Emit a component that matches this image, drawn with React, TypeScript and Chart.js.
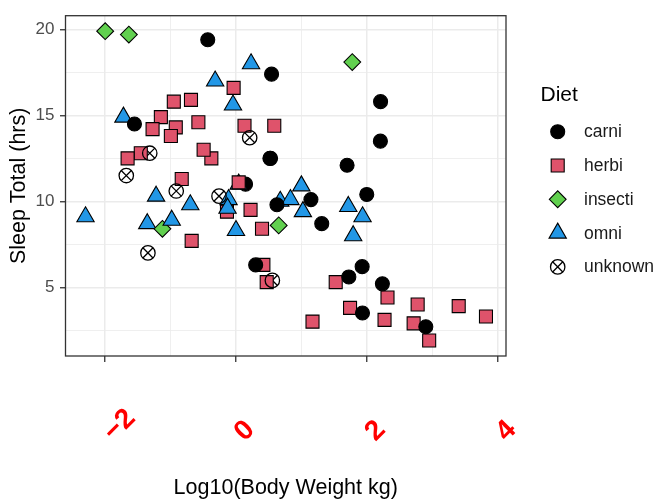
import React, { useEffect, useRef } from 'react';
import { Chart, registerables } from 'chart.js';

Chart.register(...registerables);

// Mammal sleep data: body weight (kg), total sleep (hrs) and diet, one entry per animal.
const bodyWeightKg = [
  50.0, 0.48, 1.35, 0.019, 600.0, 3.85, 20.49, 0.045, 14.0, 14.8,
  33.5, 0.728, 4.75, 0.42, 0.06, 1.0, 0.005, 3.5, 2.95, 1.7,
  2547.0, 0.023, 521.0, 187.0, 0.77, 10.0, 0.071, 3.3, 0.2, 899.995,
  800.0, 85.0, 2.625, 62.0, 1.67, 6654.0, 0.37, 6.8, 0.053, 0.12,
  0.035, 0.022, 0.01, 0.266, 1.4, 0.21, 0.028, 2.5, 55.5, 52.2,
  162.564, 100.0, 161.499, 10.55, 0.55, 1.1, 0.021, 1.62, 86.0, 53.18,
  1.1, 60.0, 3.6, 0.32, 0.044, 0.743, 0.075, 0.148, 0.122, 0.92,
  0.101, 0.205, 0.048, 86.25, 4.5, 0.112, 207.501, 0.9, 0.104, 173.33,
  2.0, 3.38, 4.23,
];

const sleepTotalHrs = [
  12.1, 17.0, 14.4, 14.9, 4.0, 14.4, 8.7, 7.0, 10.1, 3.0,
  5.3, 9.4, 10.0, 12.5, 10.3, 8.3, 9.1, 17.4, 5.3, 18.0,
  3.9, 19.7, 2.9, 3.1, 10.1, 10.9, 14.9, 12.5, 9.8, 1.9,
  2.7, 6.2, 6.3, 8.0, 9.5, 3.3, 19.4, 10.1, 14.2, 14.3,
  12.8, 12.5, 19.9, 14.6, 11.0, 7.7, 14.5, 8.4, 3.8, 9.7,
  15.8, 10.4, 13.5, 9.4, 10.3, 11.0, 11.5, 13.7, 3.5, 5.6,
  11.1, 18.1, 5.4, 13.0, 8.7, 9.6, 8.4, 11.3, 10.6, 16.6,
  13.8, 15.9, 12.8, 9.1, 8.6, 15.8, 4.4, 15.6, 8.9, 5.2,
  6.3, 12.5, 9.8,
];

const diet = [
  'carni', 'omni', 'herbi', 'omni', 'herbi', 'herbi', 'carni', 'unknown', 'carni', 'herbi',
  'herbi', 'herbi', 'omni', 'herbi', 'omni', 'omni', 'omni', 'carni', 'herbi', 'omni',
  'herbi', 'insecti', 'herbi', 'herbi', 'omni', 'omni', 'herbi', 'carni', 'omni', 'herbi',
  'carni', 'carni', 'herbi', 'omni', 'herbi', 'herbi', 'carni', 'omni', 'herbi', 'herbi',
  'herbi', 'herbi', 'insecti', 'herbi', 'carni', 'herbi', 'carni', 'herbi', 'herbi', 'omni',
  'carni', 'carni', 'carni', 'omni', 'unknown', 'omni', 'unknown', 'unknown', 'carni', 'carni',
  'herbi', 'insecti', 'unknown', 'herbi', 'omni', 'omni', 'insecti', 'herbi', 'unknown', 'herbi',
  'herbi', 'herbi', 'unknown', 'omni', 'insecti', 'herbi', 'herbi', 'omni', 'omni', 'carni',
  'carni', 'carni', 'carni',
];

const dietLevels = ['carni', 'herbi', 'insecti', 'omni', 'unknown'];

const xMajorTicks = [-2, 0, 2, 4];
const xTickLabels = ['\u22122', '0', '2', '4'];
const xMinorTicks = [-1, 1, 3];
const yMajorTicks = [5, 10, 15, 20];
const yMinorTicks = [2.5, 7.5, 12.5, 17.5];

const FONT = "'Liberation Sans', Arial, Helvetica, sans-serif";

const dietFill: Record<string, string> = {
  carni: '#000000',
  herbi: '#DF536B',
  insecti: '#61D04F',
  omni: '#2297E6',
  unknown: 'rgba(0,0,0,0)',
};

const dietStyle: Record<string, string> = {
  carni: 'circle',
  herbi: 'rect',
  insecti: 'rectRot',
  omni: 'triangle',
  unknown: 'circle',
};

const dietRadius: Record<string, number> = {
  carni: 7,
  herbi: 9.2,
  insecti: 8.4,
  omni: 10,
  unknown: 7.2,
};

// Marker for the legend keys, same geometry as the point styles.
function drawKey(ctx: CanvasRenderingContext2D, d: string, x: number, y: number) {
  const r = dietRadius[d];
  ctx.save();
  ctx.fillStyle = dietFill[d];
  ctx.strokeStyle = '#000';
  ctx.lineWidth = d === 'unknown' ? 1.3 : 1.1;
  ctx.beginPath();
  if (d === 'carni' || d === 'unknown') {
    ctx.arc(x, y, r, 0, Math.PI * 2);
  } else if (d === 'herbi') {
    const s = r * Math.SQRT1_2;
    ctx.rect(x - s, y - s, 2 * s, 2 * s);
  } else if (d === 'insecti') {
    ctx.moveTo(x - r, y);
    ctx.lineTo(x, y - r);
    ctx.lineTo(x + r, y);
    ctx.lineTo(x, y + r);
    ctx.closePath();
  } else {
    let a = 0;
    ctx.moveTo(x + Math.sin(a) * r, y - Math.cos(a) * r);
    a += (2 * Math.PI) / 3;
    ctx.lineTo(x + Math.sin(a) * r, y - Math.cos(a) * r);
    a += (2 * Math.PI) / 3;
    ctx.lineTo(x + Math.sin(a) * r, y - Math.cos(a) * r);
    ctx.closePath();
  }
  ctx.fill();
  ctx.stroke();
  if (d === 'unknown') {
    const k = r * Math.SQRT1_2;
    ctx.beginPath();
    ctx.moveTo(x - k, y - k);
    ctx.lineTo(x + k, y + k);
    ctx.moveTo(x + k, y - k);
    ctx.lineTo(x - k, y + k);
    ctx.stroke();
  }
  ctx.restore();
}

export default function App() {
  const canvasRef = useRef<HTMLCanvasElement | null>(null);

  useEffect(() => {
    document.body.style.margin = '0';
    const canvas = canvasRef.current;
    if (!canvas) return;

    const logW = bodyWeightKg.map((w) => Math.log10(w));
    const points = logW.map((lx, i) => ({ x: lx, y: sleepTotalHrs[i] }));
    const unknownPoints = points.filter((_, i) => diet[i] === 'unknown');

    // ggplot-style 5% expansion of the data range
    const xLo = Math.min(...logW), xHi = Math.max(...logW);
    const yLo = Math.min(...sleepTotalHrs), yHi = Math.max(...sleepTotalHrs);
    const xPad = (xHi - xLo) * 0.05, yPad = (yHi - yLo) * 0.05;

    const isMajorX = (v: number) => xMajorTicks.includes(v);
    const isMajorY = (v: number) => yMajorTicks.includes(v);

    const decor = {
      id: 'decor',
      beforeDraw(chart: any) {
        const { ctx, width, height } = chart;
        ctx.save();
        ctx.fillStyle = '#ffffff';
        ctx.fillRect(0, 0, width, height);
        ctx.restore();
      },
      afterDatasetsDraw(chart: any) {
        const { ctx, chartArea: a } = chart;
        ctx.save();
        ctx.strokeStyle = '#333333';
        ctx.lineWidth = 1.3;
        ctx.strokeRect(a.left, a.top, a.right - a.left, a.bottom - a.top);
        ctx.restore();
      },
      afterDraw(chart: any) {
        const { ctx, chartArea: a } = chart;
        const xs = chart.scales.x;
        ctx.save();

        // rotated x tick labels
        ctx.fillStyle = '#FF0000';
        ctx.font = `bold 28px ${FONT}`;
        ctx.textAlign = 'left';
        ctx.textBaseline = 'middle';
        xMajorTicks.forEach((v, i) => {
          const px = xs.getPixelForValue(v);
          ctx.save();
          ctx.translate(px + 3.2, 436.5);
          ctx.rotate(-Math.PI / 4);
          ctx.fillText(xTickLabels[i], 0, 0);
          ctx.restore();
        });

        // axis titles
        ctx.fillStyle = '#000000';
        ctx.font = `21.5px ${FONT}`;
        ctx.textAlign = 'center';
        ctx.textBaseline = 'alphabetic';
        ctx.fillText('Log10(Body Weight kg)', (a.left + a.right) / 2, 494);
        ctx.save();
        ctx.translate(24.5, (a.top + a.bottom) / 2);
        ctx.rotate(-Math.PI / 2);
        ctx.fillText('Sleep Total (hrs)', 0, 0);
        ctx.restore();

        // legend
        ctx.textAlign = 'left';
        ctx.font = `21px ${FONT}`;
        ctx.fillText('Diet', 540.5, 100.5);
        ctx.font = `17.5px ${FONT}`;
        dietLevels.forEach((d, i) => {
          const cy = 131.7 + i * 33.8;
          drawKey(ctx, d, 557.7, cy);
          ctx.fillStyle = '#1A1A1A';
          ctx.fillText(d, 584, cy + 5.5);
        });
        ctx.restore();
      },
    };

    const chart = new Chart(canvas, {
      type: 'scatter',
      data: {
        datasets: [
          {
            data: points,
            pointStyle: (c: any) => dietStyle[diet[c.dataIndex]],
            pointRadius: (c: any) => dietRadius[diet[c.dataIndex]],
            pointBackgroundColor: (c: any) => dietFill[diet[c.dataIndex]],
            pointBorderColor: '#000000',
            pointBorderWidth: (c: any) => (diet[c.dataIndex] === 'unknown' ? 1.3 : 1.1),
          } as any,
          {
            // the cross inside the open circles of animals with unknown diet
            data: unknownPoints,
            pointStyle: 'crossRot',
            pointRadius: dietRadius.unknown,
            pointBorderColor: '#000000',
            pointBorderWidth: 1.3,
          } as any,
        ],
      },
      options: {
        responsive: false,
        animation: false,
        devicePixelRatio: 1,
        events: [],
        layout: { padding: { top: 10, right: 152, left: 0, bottom: 0 } },
        plugins: { legend: { display: false }, tooltip: { enabled: false } },
        scales: {
          x: {
            type: 'linear',
            min: xLo - xPad,
            max: xHi + xPad,
            afterBuildTicks: (s: any) => {
              s.ticks = [...xMajorTicks, ...xMinorTicks].sort((p, q) => p - q).map((v) => ({ value: v }));
            },
            afterFit: (s: any) => {
              s.height = 145;
            },
            ticks: { display: false, autoSkip: false },
            grid: {
              color: '#EBEBEB',
              lineWidth: (c: any) => (isMajorX(c.tick?.value) ? 1.5 : 0.8),
              drawTicks: true,
              tickLength: 6,
              tickWidth: 1.3,
              tickColor: (c: any) => (isMajorX(c.tick?.value) ? '#333333' : 'rgba(0,0,0,0)'),
            },
            border: { display: false },
          },
          y: {
            type: 'linear',
            min: yLo - yPad,
            max: yHi + yPad,
            afterBuildTicks: (s: any) => {
              s.ticks = [...yMajorTicks, ...yMinorTicks].sort((p, q) => p - q).map((v) => ({ value: v }));
            },
            afterFit: (s: any) => {
              s.width = 65.5;
            },
            ticks: {
              autoSkip: false,
              padding: 5.5,
              color: '#4D4D4D',
              font: { family: FONT, size: 17 },
              callback: (v: any) => (isMajorY(Number(v)) ? String(v) : ''),
            },
            grid: {
              color: '#EBEBEB',
              lineWidth: (c: any) => (isMajorY(c.tick?.value) ? 1.5 : 0.8),
              drawTicks: true,
              tickLength: 5.5,
              tickWidth: 1.3,
              tickColor: (c: any) => (isMajorY(c.tick?.value) ? '#333333' : 'rgba(0,0,0,0)'),
            },
            border: { display: false },
          },
        },
      },
      plugins: [decor],
    } as any);

    return () => chart.destroy();
  }, []);

  return <canvas ref={canvasRef} width={658} height={501} style={{ display: 'block' }} />;
}
